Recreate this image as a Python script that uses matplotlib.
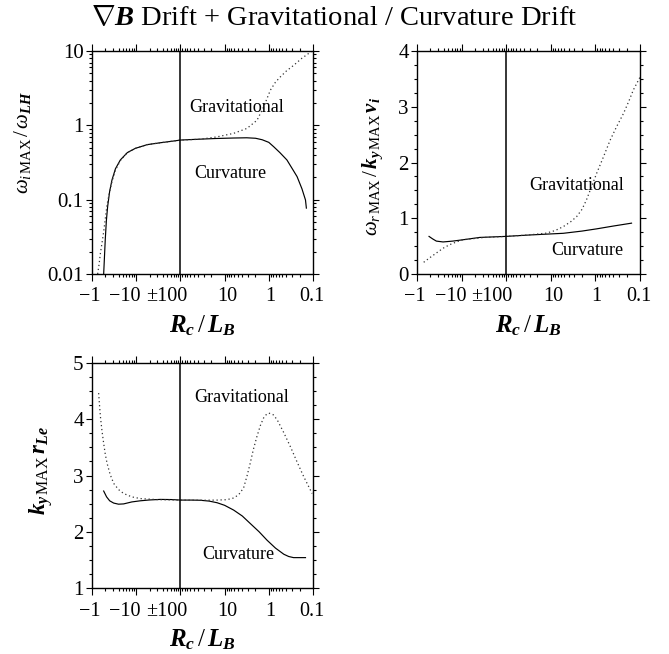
import numpy as np
import matplotlib
matplotlib.use("Agg")
import matplotlib.pyplot as plt
from matplotlib.ticker import FixedLocator, NullFormatter

plt.rcParams['font.family'] = ['Liberation Serif', 'DejaVu Serif']
plt.rcParams['mathtext.fontset'] = 'custom'
plt.rcParams['mathtext.rm'] = 'Liberation Serif'
plt.rcParams['mathtext.it'] = 'Liberation Serif:italic'
plt.rcParams['mathtext.bf'] = 'Liberation Serif:bold'
plt.rcParams['mathtext.bfit'] = 'Liberation Serif:bold:italic'

# x positions: 0 -> Rc/LB=-1, 1 -> -10, 2 -> +-100, 3 -> 10, 4 -> 1, 5 -> 0.1
xtick_labels = ["\u22121", "\u221210", "\u00b1100", "10", "1", "0.1"]
xtick_label_pos = [-0.04, 0.75, 1.68, 3.05, 4.03, 4.97]

# panel 1: growth rate (log)
p1_curv_x = [0.264, 0.28, 0.30, 0.325, 0.354, 0.40, 0.452, 0.53, 0.641, 0.8, 0.98, 1.25, 1.546, 1.8, 2.006,
             2.4, 2.8, 3.2, 3.5, 3.7, 3.85, 4.0, 4.11, 4.25, 4.41, 4.55, 4.64, 4.75, 4.83, 4.85]
p1_curv_y = [0.01, 0.016, 0.029, 0.052, 0.081, 0.13, 0.184, 0.26, 0.342, 0.43, 0.49, 0.55, 0.583, 0.61, 0.634,
             0.65, 0.665, 0.675, 0.68, 0.67, 0.64, 0.59, 0.516, 0.43, 0.342, 0.25, 0.204, 0.14, 0.099, 0.077]
p1_grav_x = [0.128, 0.16, 0.19, 0.23, 0.264, 0.30, 0.34, 0.40, 0.452, 0.53, 0.641, 0.8, 0.98, 1.25, 1.546, 1.8, 2.006,
             2.45, 2.83, 3.205, 3.507, 3.733, 3.884, 4.035, 4.15, 4.26, 4.4, 4.56, 4.75, 4.98]
p1_grav_y = [0.01, 0.0135, 0.019, 0.027, 0.037, 0.055, 0.085, 0.13, 0.175, 0.25, 0.335, 0.43, 0.49, 0.55, 0.583, 0.61, 0.634,
             0.65, 0.70, 0.78, 0.91, 1.17, 1.77, 2.97, 3.8, 4.48, 5.4, 6.4, 8.0, 10.0]

# panel 2: real frequency
p2_curv_x = [0.27, 0.35, 0.434, 0.584, 0.8, 1.03, 1.407, 1.98, 2.53, 3.28, 3.7, 4.03, 4.4, 4.81]
p2_curv_y = [0.674, 0.63, 0.59, 0.575, 0.59, 0.614, 0.656, 0.674, 0.70, 0.73, 0.77, 0.81, 0.86, 0.912]
p2_grav_x = [0.15, 0.3, 0.434, 0.58, 0.73, 0.9, 1.03, 1.5, 1.98, 2.5, 2.90, 3.1, 3.28, 3.45, 3.58, 3.70, 3.80,
             3.92, 4.03, 4.18, 4.33, 4.48, 4.63, 4.75, 4.85, 5.0]
p2_grav_y = [0.21, 0.30, 0.376, 0.46, 0.525, 0.58, 0.614, 0.655, 0.674, 0.70, 0.733, 0.78, 0.85, 0.94, 1.03, 1.16, 1.33,
             1.58, 1.81, 2.1, 2.40, 2.65, 2.88, 3.1, 3.30, 3.53]

# panel 3: wavenumber
p3_curv_x = [0.264, 0.33, 0.40, 0.49, 0.6, 0.716, 0.9, 1.09, 1.3, 1.546, 1.8, 2.006, 2.25, 2.45, 2.65, 2.83, 3.0,
             3.205, 3.4, 3.58, 3.78, 3.96, 4.15, 4.34, 4.45, 4.56, 4.83]
p3_curv_y = [2.724, 2.62, 2.55, 2.51, 2.49, 2.495, 2.53, 2.55, 2.565, 2.575, 2.572, 2.563, 2.563, 2.56, 2.545, 2.516, 2.47,
             2.385, 2.28, 2.147, 2.0, 1.85, 1.71, 1.60, 1.56, 1.54, 1.54]
p3_grav_x = [0.15, 0.17, 0.19, 0.225, 0.264, 0.30, 0.34, 0.41, 0.49, 0.6, 0.716, 0.9, 1.09, 1.5, 2.006, 2.5, 2.83,
             3.05, 3.205, 3.32, 3.43, 3.51, 3.58, 3.65, 3.73, 3.81, 3.88, 3.95, 4.0, 4.1, 4.19, 4.34, 4.49, 4.64,
             4.79, 4.98]
p3_grav_y = [4.465, 4.25, 4.05, 3.8, 3.57, 3.38, 3.22, 3.02, 2.86, 2.75, 2.68, 2.62, 2.59, 2.57, 2.563, 2.56, 2.563,
             2.57, 2.60, 2.66, 2.78, 3.0, 3.22, 3.46, 3.69, 3.89, 4.02, 4.09, 4.11, 4.08, 3.99, 3.76, 3.51, 3.24,
             2.98, 2.68]

W, H = 669, 654
fig = plt.figure(figsize=(W / 100, H / 100), dpi=100)

def px(l, t, r, b):
    return [l / W, 1 - b / H, (r - l) / W, (b - t) / H]

ax1 = fig.add_axes(px(92, 51, 313, 274))
ax2 = fig.add_axes(px(417, 51, 640, 274))
ax3 = fig.add_axes(px(92, 363, 313, 588))

# log minor positions on the folded axis
minor_x = []
for k in range(2, 10):
    minor_x += [np.log10(k), 1 + np.log10(k), 3 - np.log10(k), 4 - np.log10(k), 5 - np.log10(k)]


def style(ax, ylabel, lx, ly, ysize=15):
    ax.set_xlim(0, 5)
    ax.axvline(2, color='black', lw=1.1)
    ax.xaxis.set_major_locator(FixedLocator([0, 1, 2, 3, 4, 5]))
    ax.xaxis.set_minor_locator(FixedLocator(minor_x))
    ax.xaxis.set_major_formatter(NullFormatter())
    ax.xaxis.set_minor_formatter(NullFormatter())
    ax.tick_params(axis='x', which='both', top=True, bottom=True, direction='out', width=0.8)
    ax.tick_params(axis='x', which='major', length=5)
    ax.tick_params(axis='x', which='minor', length=2.5)
    ax.tick_params(axis='y', which='both', left=True, right=True, direction='out', width=0.8, labelsize=15)
    ax.tick_params(axis='y', which='major', length=4.5, pad=1.5)
    ax.tick_params(axis='y', which='minor', length=2.5)
    for s in ax.spines.values():
        s.set_linewidth(1.0)
    for p, t in zip(xtick_label_pos, xtick_labels):
        ax.text(p, -0.06, t, transform=ax.get_xaxis_transform(), ha='center', va='top', fontsize=14.5)
    ax.text(0.5, -0.23, r"$\mathbfit{R_c}\,/\,\mathbfit{L_B}$", transform=ax.transAxes,
            ha='center', va='center', fontsize=18)
    ax.set_ylabel(ylabel, fontsize=ysize)
    ax.yaxis.set_label_coords(lx, ly)


dot = (0, (1, 2.2))
txt = 13

ax1.plot(p1_curv_x, p1_curv_y, color='black', lw=0.85)
ax1.plot(p1_grav_x, p1_grav_y, color='#333333', lw=0.9, linestyle=dot)
ax1.set_yscale('log')
ax1.set_ylim(0.01, 10)
ax1.set_yticks([0.01, 0.1, 1, 10])
ax1.set_yticklabels(["0.01", "0.1", "1", "10"])
style(ax1, r"$\omega_{i\,\mathrm{MAX}}\,/\,\omega_{\mathbfit{LH}}$", -0.265, 0.59)
ax1.text(3.28, 1.75, "Gravitational", ha='center', va='center', fontsize=txt)
ax1.text(3.12, 0.228, "Curvature", ha='center', va='center', fontsize=txt)

ax2.plot(p2_curv_x, p2_curv_y, color='black', lw=0.85)
ax2.plot(p2_grav_x, p2_grav_y, color='#333333', lw=0.9, linestyle=dot)
ax2.set_ylim(0, 4)
ax2.set_yticks([0, 1, 2, 3, 4])
ax2.set_yticks(np.arange(0, 4.01, 0.25), minor=True)
style(ax2, r"$\omega_{r\,\mathrm{MAX}}\,/\,\mathbfit{k}_{\mathbfit{y}\,\mathrm{MAX}}\,\mathbfit{v_i}$", -0.143, 0.48)
ax2.text(3.57, 1.59, "Gravitational", ha='center', va='center', fontsize=txt)
ax2.text(3.81, 0.43, "Curvature", ha='center', va='center', fontsize=txt)

ax3.plot(p3_curv_x, p3_curv_y, color='black', lw=0.85)
ax3.plot(p3_grav_x, p3_grav_y, color='#333333', lw=0.9, linestyle=dot)
ax3.set_ylim(1, 5)
ax3.set_yticks([1, 2, 3, 4, 5])
ax3.set_yticks(np.arange(1, 5.01, 0.25), minor=True)
style(ax3, r"$\mathbfit{k}_{\mathbfit{y}\,\mathrm{MAX}}\,\mathbfit{r}_{\mathbfit{Le}}$", -0.167, 0.524, ysize=16.5)
ax3.text(3.39, 4.38, "Gravitational", ha='center', va='center', fontsize=txt)
ax3.text(3.30, 1.59, "Curvature", ha='center', va='center', fontsize=txt)

fig.text(334 / W, 1 - 19 / H, r"$\nabla\mathbfit{B}$ Drift + Gravitational / Curvature Drift",
         ha='center', va='center', fontsize=20.5)

fig.savefig("out.png", dpi=100)
